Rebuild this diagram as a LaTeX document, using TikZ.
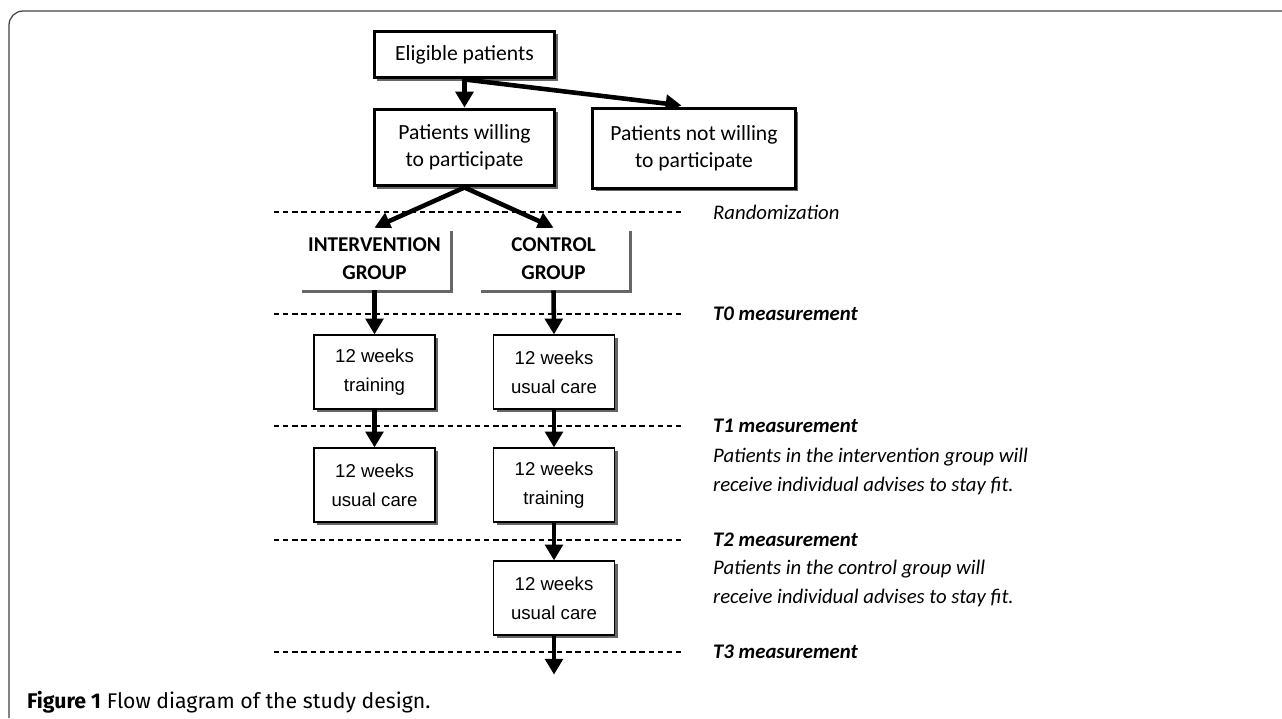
\documentclass[tikz,border=0pt]{standalone}
\usepackage{fontspec}
\setmainfont{Carlito}
\newfontfamily\boxfont{Liberation Sans}
\newfontfamily\capfont{Fira Sans}
\usetikzlibrary{arrows.meta,positioning,calc,shadows,backgrounds}

\begin{document}
\begin{tikzpicture}[
  x=0.02cm, y=-0.02cm,
  font=\fontsize{12.3}{15.4}\selectfont,
  shade/.style={drop shadow={shadow xshift=1.8pt,shadow yshift=-1.8pt,opacity=0.6,fill=black}},
  thickbox/.style={draw,line width=1.7pt,fill=white,align=center,minimum width=103pt,shade},
  weekbox/.style={draw,line width=0.8pt,fill=white,align=center,minimum width=68.8pt,minimum height=42pt,
    font=\boxfont\fontsize{10.6}{16.5}\selectfont,shade},
  groupbox/.style={fill=white,align=center,minimum width=86pt,minimum height=35.3pt,
    font=\bfseries\fontsize{12}{16}\selectfont,shade},
  arr/.style={line width=2.6pt,-{Triangle[width=10pt,length=9pt]}},
  sep/.style={line width=0.8pt,dash pattern=on 3pt off 2.2pt},
  lbl/.style={anchor=west,align=left,font=\itshape\fontsize{11.8}{16.5}\selectfont},
  tlbl/.style={lbl,font=\bfseries\itshape\fontsize{11.8}{16.5}\selectfont}
]
\useasboundingbox (0,0) rectangle (1282,718);
\draw[black!75,line width=0.7pt,rounded corners=8pt] (9,718) -- (9,11) -- (1282,11);

% ---------- recruitment
\node[thickbox,minimum height=26.7pt] (elig) at (464.5,54.5) {Eligible patients};
\node[thickbox,minimum height=43.8pt] (will) at (464.5,147.5) {Patients willing\\to participate};
\node[thickbox,minimum width=115pt,minimum height=45pt] (notwill) at (694,148.5) {Patients not willing\\to participate};
\coordinate (nwin) at ($(notwill.north west)+(90,-2)$);

% ---------- groups and periods
\node[groupbox] (inter) at (374.5,259) {INTERVENTION\\GROUP};
\node[groupbox] (ctrl) at (553.5,259) {CONTROL\\GROUP};
\node[weekbox] (tr1) at (374.5,372) {12 weeks\\training};
\node[weekbox] (uc1) at (554,372) {12 weeks\\usual care};
\node[weekbox] (uc2) at (374.5,485) {12 weeks\\usual care};
\node[weekbox] (tr2) at (554,485) {12 weeks\\training};
\node[weekbox] (uc3) at (554,598) {12 weeks\\usual care};
\coordinate (t3end) at ($(uc3.south)+(0,39)$);

% ---------- time points
\node[lbl] (rnd) at (707,212) {Randomization};
\node[tlbl] (t0) at (707,314) {T0 measurement};
\node[tlbl] (t1) at (707,426) {T1 measurement};
\node[lbl] (t1txt) at (707,471) {Patients in the intervention group will\\receive individual advises to stay fit.};
\node[tlbl] (t2) at (707,540) {T2 measurement};
\node[lbl] (t2txt) at (707,583) {Patients in the control group will\\receive individual advises to stay fit.};
\node[tlbl] (t3) at (707,652) {T3 measurement};

\begin{scope}[on background layer]
\foreach \y in {212,314,426,540,652}
  \draw[sep] (274,\y) -- (685,\y);
\draw[arr] (elig.south) -- (will.north);
\draw[arr] (elig.south) -- (nwin);
\draw[arr] (will.south) -- (inter.north);
\draw[arr] (will.south) -- (ctrl.north);
\draw[arr] (inter.south) -- (tr1.north);
\draw[arr] (ctrl.south) -- (uc1.north);
\draw[arr] (tr1.south) -- (uc2.north);
\draw[arr] (uc1.south) -- (tr2.north);
\draw[arr] (tr2.south) -- (uc3.north);
\draw[arr] (uc3.south) -- (t3end);
\end{scope}

\node[anchor=west,font=\capfont\fontsize{12.1}{14}\selectfont] (cap) at (21,702)
  {\textbf{Figure 1} Flow diagram of the study design.};
\end{tikzpicture}
\end{document}
